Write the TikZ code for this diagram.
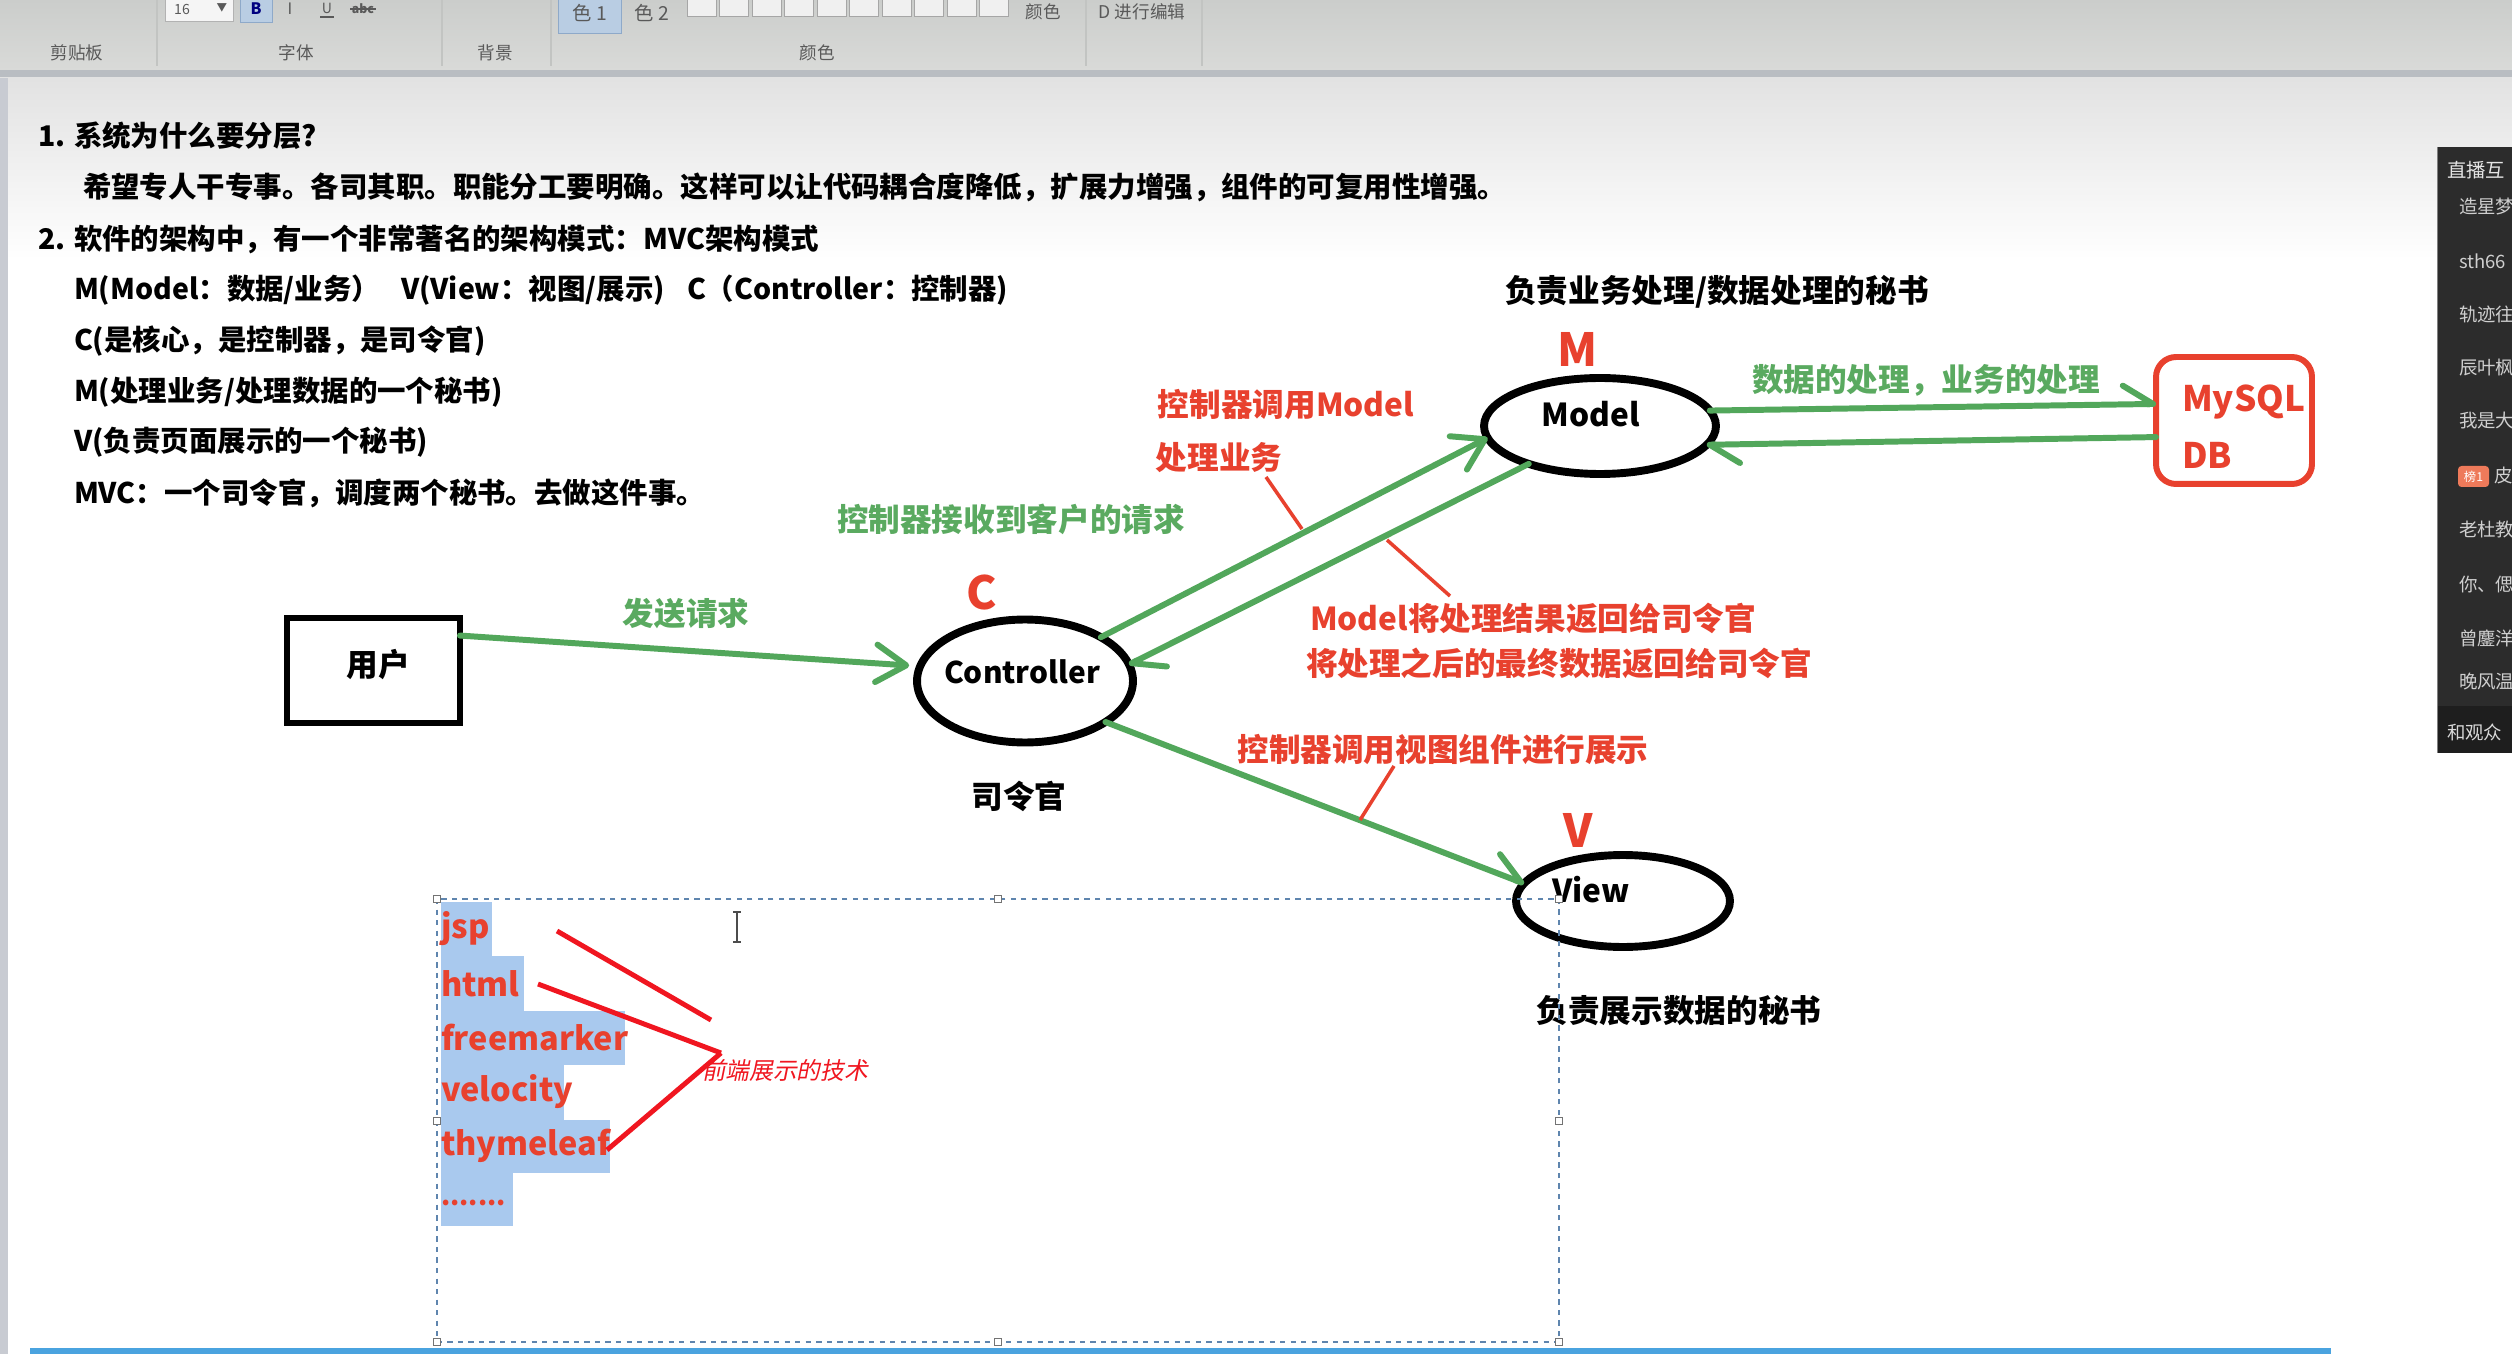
\documentclass[tikz,border=0pt]{standalone}
\usepackage{fontspec}
\setmainfont{Noto Sans CJK SC}
\newfontfamily\slantfont{Noto Sans CJK SC}[FakeSlant=0.2]
\usetikzlibrary{shapes.geometric,arrows.meta}
\definecolor{mygreen}{HTML}{52A75B}
\definecolor{labgreen}{HTML}{5AAA60}
\definecolor{myred}{HTML}{E8412E}
\definecolor{brightred}{HTML}{F01620}
\definecolor{hl}{HTML}{A9C9EE}
\definecolor{dashc}{HTML}{5F85AE}
\definecolor{tbtop}{HTML}{CBCDCB}
\definecolor{tbbot}{HTML}{D9DAD8}
\definecolor{tbband}{HTML}{B9BDC2}
\definecolor{pagegray}{HTML}{E2E2E2}
\definecolor{leftstrip}{HTML}{C8CBD2}
\definecolor{sepc}{HTML}{C2C4C2}
\definecolor{btnblue}{HTML}{B9CDE3}
\definecolor{btnborder}{HTML}{8EA9C9}
\definecolor{sidedark}{HTML}{2C2C2C}
\definecolor{sidedarker}{HTML}{1E1E1E}
\definecolor{sidetxt}{HTML}{CFCFCF}
\definecolor{badge}{HTML}{EE7A5A}
\definecolor{bottomblue}{HTML}{4AA3DF}
\begin{document}
\begin{tikzpicture}[x=0.02cm,y=-0.02cm,
  every node/.style={inner sep=0pt,outer sep=0pt},
  body/.style={font=\fontsize{16.2}{19}\selectfont\bfseries,anchor=west,text=black},
  lab/.style={font=\fontsize{18}{21}\selectfont\bfseries},
  redlab/.style={lab,text=myred},
  greenlab/.style={lab,text=labgreen},
  blacklab/.style={lab,text=black},
  letter/.style={font=\fontsize{26}{28}\selectfont\bfseries,text=myred},
  ell/.style={ellipse,draw=black,line width=4.5pt},
  userbox/.style={draw=black,line width=3.7pt,minimum width=3.46cm,minimum height=2.1cm},
  dbbox/.style={draw=myred,line width=3.4pt,rounded corners=0.4cm,minimum width=3.12cm,minimum height=2.54cm},
  garrow/.style={draw=mygreen,line width=3.4pt,line cap=round},
  fulltip/.style={-{Straight Barb[length=0.6cm,width=0.75cm,round]}},
  halftip/.style={-{Straight Barb[length=0.6cm,width=0.75cm,round,left]}},
  pointer/.style={draw=myred,line width=2pt},
  techline/.style={draw=brightred,line width=2.8pt},
  listtxt/.style={font=\fontsize{18.5}{21}\selectfont\bfseries,text=myred,anchor=west},
  tbtxt/.style={font=\fontsize{10}{12}\selectfont,text=black!65},
  sidename/.style={font=\fontsize{10.5}{12}\selectfont,text=sidetxt,anchor=west},
  selbox/.style={draw=dashc,line width=0.9pt,dash pattern=on 3pt off 3pt},
  handle/.style={draw=black!55,fill=white,line width=0.5pt,minimum size=0.14cm}
]
\useasboundingbox (0,0) rectangle (2512,1354);
\fill[white] (0,0) rectangle (2512,1354);
% ---------- toolbar ----------
\shade[top color=tbtop,bottom color=tbbot] (0,0) rectangle (2512,70);
\fill[tbband] (0,70) rectangle (2512,78);
\shade[top color=pagegray,bottom color=white] (0,78) rectangle (2512,260);
\fill[leftstrip] (0,78) rectangle (8,1354);
\foreach \x in {157,442,551,1086,1202} \draw[sepc,line width=0.8pt] (\x,0) -- (\x,66);
\node[tbtxt] (g1) at (77,53) {剪贴板};
\node[tbtxt] (g2) at (296,53) {字体};
\node[tbtxt] (g3) at (495,53) {背景};
\node[tbtxt] (g4) at (817,53) {颜色};
\filldraw[fill=white!96!black,draw=black!30] (165,-5) rectangle (233,21);
\node[tbtxt,font=\fontsize{8}{9}\selectfont] (fs) at (182,9) {16};
\node[tbtxt,font=\fontsize{6}{7}\selectfont] (fsarrow) at (222,8) {▼};
\filldraw[fill=btnblue,draw=btnborder] (240,-5) rectangle (272,22);
\node[font=\fontsize{9}{10}\selectfont\bfseries\rmfamily,text=blue!50!black] (bb) at (256,9) {B};
\node[tbtxt,font=\fontsize{9}{10}\selectfont\itshape] (ib) at (290,9) {I};
\node[tbtxt,font=\fontsize{8}{9}\selectfont] (ub) at (327,8) {U};
\draw[black!65,line width=0.6pt] (320,17) -- (334,17);
\node[tbtxt,font=\fontsize{7}{8}\selectfont\bfseries] (sb) at (363,9) {abc};
\draw[black!65,line width=0.6pt] (350,9) -- (376,9);
\filldraw[fill=btnblue,draw=btnborder] (558,-5) rectangle (621,33);
\node[tbtxt,font=\fontsize{11}{12}\selectfont] (c1) at (590,13) {色 1};
\node[tbtxt,font=\fontsize{11}{12}\selectfont] (c2) at (652,13) {色 2};
\foreach \i in {0,...,9} \draw[black!35,fill=white!94!black] (687+\i*32.5,-5) rectangle ++(29,21);
\node[tbtxt] (ys) at (1043,12) {颜色};
\node[tbtxt] (ed) at (1142,12) {D 进行编辑};
% ---------- sidebar ----------
\fill[sidedark] (2437,147) rectangle (2512,753);
\fill[sidedarker] (2437,706) rectangle (2512,753);
\draw[black!50,line width=0.6pt] (2437,147) -- (2437,753);
\begin{scope}
\clip (2437,147) rectangle (2512,753);
\node[sidename,font=\fontsize{11}{12}\selectfont,text=white!90!black] (s0) at (2447,170) {直播互};
\node[sidename] (s1) at (2459,207) {造星梦};
\node[sidename] (s2) at (2459,261) {sth66};
\node[sidename] (s3) at (2459,314) {轨迹往};
\node[sidename] (s4) at (2459,368) {辰叶枫};
\node[sidename] (s5) at (2459,421) {我是大};
\fill[badge,rounded corners=2pt] (2458,466) rectangle (2489,487);
\node[font=\fontsize{7}{8}\selectfont,text=white] (s6b) at (2473.5,476.5) {榜1};
\node[sidename] (s6) at (2494,476) {皮};
\node[sidename] (s7) at (2459,530) {老杜教};
\node[sidename] (s8) at (2459,585) {你、偲};
\node[sidename] (s9) at (2459,638) {曾鏖洋};
\node[sidename] (s10) at (2459,682) {晚风温};
\node[sidename,text=white!85!black] (s11) at (2447,732) {和观众};
\end{scope}
% ---------- bottom line ----------
\fill[bottomblue] (30,1348) rectangle (2331,1354);
% ---------- body text ----------
\node[body] (t1) at (38,136) {1. 系统为什么要分层?};
\node[body] (t2) at (83,187) {希望专人干专事。各司其职。职能分工要明确。这样可以让代码耦合度降低，扩展力增强，组件的可复用性增强。};
\node[body] (t3) at (38,239) {2. 软件的架构中，有一个非常著名的架构模式：MVC架构模式};
\node[body] (t4a) at (74,290) {M(Model：数据/业务）};
\node[body] (t4b) at (401,290) {V(View：视图/展示)};
\node[body] (t4c) at (687,290) {C（Controller：控制器)};
\node[body] (t5) at (74,341) {C(是核心，是控制器，是司令官)};
\node[body] (t6) at (74,392) {M(处理业务/处理数据的一个秘书)};
\node[body] (t7) at (74,442) {V(负责页面展示的一个秘书)};
\node[body] (t8) at (74,493) {MVC：一个司令官，调度两个秘书。去做这件事。};
% ---------- diagram nodes ----------
\node[userbox] (user) at (373.5,670.5) {};
\node[blacklab] (usert) at (378,665) {用户};
\node[ell,minimum width=4.32cm,minimum height=2.46cm] (ctrl) at (1025,681) {};
\node[lab,font=\fontsize{17}{20}\selectfont\bfseries] (ctrlt) at (1022,672) {Controller};
\node[ell,minimum width=4.64cm,minimum height=1.92cm] (model) at (1600,426) {};
\node[blacklab] (modelt) at (1591,414) {Model};
\node[ell,minimum width=4.28cm,minimum height=1.84cm] (view) at (1623,901) {};
\node[blacklab] (viewt) at (1591,890) {View};
\node[dbbox] (db) at (2234,420.5) {};
\node[lab,font=\fontsize{20}{22}\selectfont\bfseries,text=myred,anchor=west] (dbt1) at (2182,402) {MySQL};
\node[lab,font=\fontsize{20}{22}\selectfont\bfseries,text=myred,anchor=west] (dbt2) at (2182,455) {DB};
% letters and captions
\node[letter] (lc) at (982,593) {C};
\node[letter] (lm) at (1578,349) {M};
\node[letter] (lv) at (1578,830) {V};
\node[blacklab] (cap1) at (1019,796) {司令官};
\node[blacklab] (cap2) at (1717,292) {负责业务处理/数据处理的秘书};
\node[blacklab] (cap3) at (1679,1011) {负责展示数据的秘书};
% edge labels
\node[greenlab] (e1) at (686,614) {发送请求};
\node[greenlab] (e2) at (1011,519) {控制器接收到客户的请求};
\node[redlab] (e3) at (1286,404) {控制器调用Model};
\node[redlab] (e4) at (1219,458) {处理业务};
\node[redlab] (e5) at (1533,618) {Model将处理结果返回给司令官};
\node[redlab] (e6) at (1559,663) {将处理之后的最终数据返回给司令官};
\node[redlab] (e7) at (1443,750) {控制器调用视图组件进行展示};
\node[greenlab] (e8) at (1926,380) {数据的处理，业务的处理};
% ---------- green arrows ----------
\draw[garrow,fulltip,shorten >=0.22cm] (user.22) -- (ctrl.172);
\draw[garrow,fulltip] (ctrl.30) -- (model.186);
\draw[garrow,halftip] (model.208) -- (ctrl.9);
\draw[garrow,halftip] (ctrl.-27) -- (view.170);
\draw[garrow,halftip] (model.8) -- (db.168);
\draw[garrow,halftip] (db.192) -- (model.-10);
% ---------- red pointers ----------
\coordinate (p1a) at (1266,477); \coordinate (p1b) at (1302,529);
\coordinate (p2a) at (1387,540); \coordinate (p2b) at (1450,596);
\coordinate (p3a) at (1360,820); \coordinate (p3b) at (1394,766);
\draw[pointer] (p1a) -- (p1b);
\draw[pointer] (p2a) -- (p2b);
\draw[pointer] (p3a) -- (p3b);
% ---------- list area ----------
\fill[hl] (441,902) rectangle (492,956);
\fill[hl] (441,956) rectangle (524,1011);
\fill[hl] (441,1011) rectangle (625,1065);
\fill[hl] (441,1065) rectangle (564,1120);
\fill[hl] (441,1120) rectangle (610,1173);
\fill[hl] (441,1173) rectangle (513,1226);
\node[listtxt] (i1) at (441,929) {jsp};
\node[listtxt] (i2) at (441,984) {html};
\node[listtxt] (i3) at (441,1038) {freemarker};
\node[listtxt] (i4) at (441,1092) {velocity};
\node[listtxt] (i5) at (441,1146) {thymeleaf};
\node[listtxt,font=\fontsize{15}{17}\selectfont\bfseries] (i6) at (441,1203) {.......};
\node[font=\slantfont\fontsize{13.5}{15}\selectfont,text=brightred,anchor=west] (tech) at (702,1070) {前端展示的技术};
\coordinate (q1a) at (557,931); \coordinate (q1b) at (711,1020);
\coordinate (q2a) at (538,984); \coordinate (q2b) at (721,1053);
\coordinate (q3b) at (607,1150);
\draw[techline] (q1a) -- (q1b);
\draw[techline] (q2a) -- (q2b);
\draw[techline] (q2b) -- (q3b);
% text cursor
\draw[black!70,line width=0.9pt] (737,913) -- (737,941) (733,912) -- (741,912) (733,942) -- (741,942);
% selection box
\draw[selbox] (437,899) rectangle (1559,1342);
\foreach \p in {(437,899),(998,899),(1559,899),(437,1121),(1559,1121),(437,1342),(998,1342),(1559,1342)}
  \node[handle] at \p {};
\end{tikzpicture}
\end{document}
